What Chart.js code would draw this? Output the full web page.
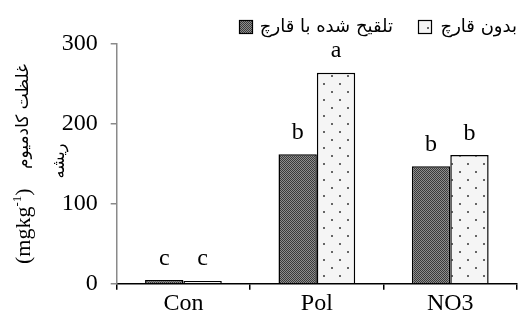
<!DOCTYPE html>
<html>
<head>
<meta charset="utf-8">
<script src="https://cdn.jsdelivr.net/npm/chart.js@4.4.1/dist/chart.umd.min.js"></script>
<style>
  html, body { margin: 0; padding: 0; background: #fff; }
</style>
</head>
<body>
<canvas id="cdChart" width="518" height="323"></canvas>
<script>
// data
const categories = ['Con', 'Pol', 'NO3'];
const inoculated = [4.5, 162, 147];      // تلقیح شده با قارچ
const noFungus = [3.5, 264, 161];        // بدون قارچ
const lettersInoculated = ['c', 'b', 'b'];
const lettersNoFungus = ['c', 'a', 'b'];
const yTicks = [0, 100, 200, 300];
const seriesNames = ['تلقیح شده با قارچ', 'بدون قارچ'];
const yTitleArabic = 'غلظت کادمیوم';
const yTitleSecond = 'ریشه';

const SERIF = '"Liberation Serif", "Times New Roman", serif';
const ARABIC = '"DejaVu Sans", sans-serif';

// fill patterns (dark checker, dotted light)
function darkPattern(ctx) {
    const c = document.createElement('canvas');
    c.width = 2; c.height = 2;
    const p = c.getContext('2d');
    p.fillStyle = '#8e8e8e';
    p.fillRect(0, 0, 2, 2);
    p.fillStyle = '#3a3a3a';
    p.fillRect(0, 0, 1, 1);
    p.fillRect(1, 1, 1, 1);
    return ctx.createPattern(c, 'repeat');
}

function dotPattern(ctx) {
    const c = document.createElement('canvas');
    c.width = 16; c.height = 16;
    const p = c.getContext('2d');
    p.fillStyle = '#f5f5f5';
    p.fillRect(0, 0, 16, 16);
    p.fillStyle = '#666';
    p.fillRect(3, 3, 2, 2);
    p.fillRect(11, 11, 2, 2);
    return ctx.createPattern(c, 'repeat');
}

const canvas = document.getElementById('cdChart');
const ctx = canvas.getContext('2d');
const fills = [darkPattern(ctx), dotPattern(ctx)];
const letters = [lettersInoculated, lettersNoFungus];

// significance letters above bars
const letterPlugin = {
    id: 'letters',
    afterDatasetsDraw(chart) {
        const c = chart.ctx;
        c.save();
        c.font = '24px ' + SERIF;
        c.fillStyle = '#000';
        c.textAlign = 'center';
        c.textBaseline = 'alphabetic';
        chart.data.datasets.forEach((ds, i) => {
            chart.getDatasetMeta(i).data.forEach((bar, j) => {
                c.fillText(letters[i][j], bar.x, bar.y - 15.5);
            });
        });
        c.restore();
    }
};

// legend and rotated y title
const extrasPlugin = {
    id: 'extras',
    afterDraw(chart) {
        const c = chart.ctx;
        c.save();
        // legend
        const boxes = [239, 418];
        const textRight = [393, 517];
        c.font = '18px ' + ARABIC;
        c.textBaseline = 'middle';
        c.textAlign = 'right';
        for (let i = 0; i < 2; i++) {
            c.fillStyle = fills[i];
            c.fillRect(boxes[i], 20, 13, 13);
            c.strokeStyle = '#000';
            c.lineWidth = 1.2;
            c.strokeRect(boxes[i] + 0.5, 20.5, 13, 13);
            c.fillStyle = '#000';
            c.fillText(seriesNames[i], textRight[i], 27);
        }
        // y title, line 1
        c.translate(24, 0);
        c.rotate(-Math.PI / 2);
        c.textAlign = 'left';
        c.fillStyle = '#000';
        let u = -264;
        c.font = '22px ' + SERIF;
        c.fillText('(mgkg', u, 0);
        u += c.measureText('(mgkg').width;
        c.font = '13px ' + SERIF;
        c.fillText('-1', u, -6);
        u += c.measureText('-1').width;
        c.font = '22px ' + SERIF;
        c.fillText(')', u, 0);
        c.font = '17px ' + ARABIC;
        c.textAlign = 'right';
        c.fillText(yTitleArabic, -64, 0);
        // line 2
        c.font = '16px ' + ARABIC;
        c.textAlign = 'center';
        c.fillText(yTitleSecond, -161, 36);
        c.restore();
    }
};

new Chart(canvas, {
    type: 'bar',
    data: {
        labels: categories,
        datasets: [{
            label: seriesNames[0],
            data: inoculated,
            backgroundColor: fills[0],
            borderColor: '#000',
            borderWidth: 1.5
        }, {
            label: seriesNames[1],
            data: noFungus,
            backgroundColor: fills[1],
            borderColor: '#000',
            borderWidth: 1.5
        }]
    },
    options: {
        responsive: false,
        animation: false,
        categoryPercentage: 0.575,
        barPercentage: 1,
        layout: { padding: { top: 44, right: 1, left: 0, bottom: 0 } },
        plugins: {
            legend: { display: false },
            tooltip: { enabled: false }
        },
        scales: {
            x: {
                grid: {
                    drawOnChartArea: false,
                    color: '#000',
                    lineWidth: 1.5,
                    tickLength: 6
                },
                border: { color: '#000', width: 1.5 },
                ticks: {
                    color: '#000',
                    padding: 0,
                    font: { family: SERIF, size: 24 }
                },
                afterFit(scale) { scale.height = 39.3; }
            },
            y: {
                min: 0,
                max: 300,
                afterBuildTicks(scale) {
                    scale.ticks = yTicks.map(v => ({ value: v }));
                },
                grid: {
                    drawOnChartArea: false,
                    color: '#8a8a8a',
                    lineWidth: 1.5,
                    tickLength: 6
                },
                border: { color: '#8a8a8a', width: 1.5 },
                ticks: {
                    color: '#000',
                    padding: 13,
                    font: { family: SERIF, size: 24 }
                },
                afterFit(scale) { scale.width = 116.7; }
            }
        }
    },
    plugins: [letterPlugin, extrasPlugin]
});
</script>
</body>
</html>
